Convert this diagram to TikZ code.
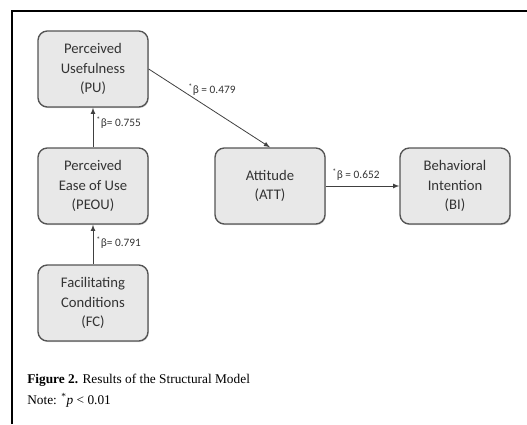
\documentclass[tikz,border=0pt]{standalone}
\usepackage{fontspec}
\setmainfont{Carlito}
\newfontfamily\capfont{Liberation Serif}
\usetikzlibrary{arrows}
\usetikzlibrary{positioning}
\usetikzlibrary{shadows}
\definecolor{mfill}{rgb}{0.91, 0.91, 0.91}
\definecolor{mgrey}{rgb}{0.33, 0.33, 0.33}
\definecolor{mline}{rgb}{0.25, 0.25, 0.25}
\definecolor{mtext}{rgb}{0.2, 0.2, 0.2}
\tikzset{construct/.style = {draw = mgrey, fill = mfill, rounded corners = 7, line width = 1,
    minimum width = 82.5pt, minimum height = 57pt, align = center,
    font = \fontsize{11}{14.5}\selectfont, text = mtext,
    drop shadow = {shadow xshift = 0.6pt, shadow yshift = -0.8pt, opacity = 0.35}}}
\tikzset{beta/.style = {anchor = west, inner sep = 0, text = mtext, font = \fontsize{8.5}{10}\selectfont}}
\tikzset{link/.style = {draw = mline, line width = 0.6, -latex}}
\tikzset{caption/.style = {anchor = west, inner sep = 0, font = \capfont\fontsize{10}{12}\selectfont}}

\begin{document}
\begin{tikzpicture}[x = 0.75pt, y = -0.75pt]
      \useasboundingbox (0, 0) rectangle (527, 424);
      \draw [line width = 1.5] (12, 424) -- (12, 11) -- (527, 11);

      \node [construct] (pu) at (93, 69) {Perceived\\Usefulness\\(PU)};
      \node [construct] (peou) at (93, 186) {Perceived\\Ease of Use\\(PEOU)};
      \node [construct] (fc) at (93, 303) {Facilitating\\Conditions\\(FC)};
      \node [construct] (att) at (270, 186) {Attitude\\(ATT)};
      \node [construct] (bi) at (455, 186) {Behavioral\\Intention\\(BI)};

      \draw [link] (pu.east) -- (att.north);
      \draw [link] (peou) -- (pu);
      \draw [link] (fc) -- (peou);
      \draw [link] (att) -- (bi);

      \node [beta] (b1) at (188, 90) {\textsuperscript{*}β = 0.479};
      \node [beta] (b2) at (96, 123) {\textsuperscript{*}β= 0.755};
      \node [beta] (b3) at (96, 243) {\textsuperscript{*}β= 0.791};
      \node [beta] (b4) at (332, 175) {\textsuperscript{*}β = 0.652};

      \node [caption] (cap) at (27, 380) {\textbf{Figure 2.} Results of the Structural Model};
      \node [caption] (note) at (27, 400) {Note: \textsuperscript{*}\textit{p} < 0.01};
    \end{tikzpicture}
\end{document}
